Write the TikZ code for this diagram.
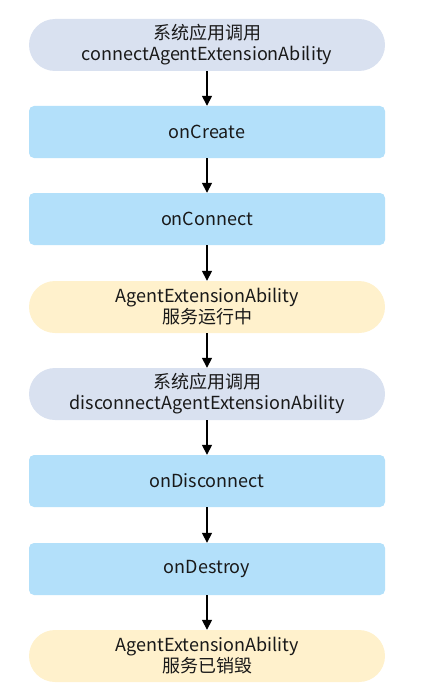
\documentclass[tikz,border=0pt]{standalone}
\usepackage{fontspec}
\setmainfont{Noto Sans CJK SC}
\usetikzlibrary{arrows.meta}
\definecolor{grayblue}{HTML}{D9E1F0}
\definecolor{lightblue}{HTML}{B3E0FA}
\definecolor{lightyellow}{HTML}{FFF1CC}
\begin{document}
\begin{tikzpicture}[x=1pt,y=-1pt,
  base/.style={minimum width=356pt,minimum height=52pt,inner sep=0pt,align=center,
    font=\fontsize{18}{21}\selectfont,text=black!90},
  callbox/.style={base,fill=grayblue,rounded corners=26pt},
  stepbox/.style={base,fill=lightblue,rounded corners=5pt},
  statebox/.style={base,fill=lightyellow,rounded corners=26pt},
  arr/.style={-{Triangle[length=10pt,width=10pt]},line width=1.6pt,black}]
\useasboundingbox (0,0) rectangle (424,698);
\node[callbox]  (n1) at (207,45)  {系统应用调用\\connectAgentExtensionAbility};
\node[stepbox]  (n2) at (207,132) {onCreate};
\node[stepbox]  (n3) at (207,219) {onConnect};
\node[statebox] (n4) at (207,307) {AgentExtensionAbility\\服务运行中};
\node[callbox]  (n5) at (207,394) {系统应用调用\\disconnectAgentExtensionAbility};
\node[stepbox]  (n6) at (207,481) {onDisconnect};
\node[stepbox]  (n7) at (207,569) {onDestroy};
\node[statebox] (n8) at (207,656) {AgentExtensionAbility\\服务已销毁};
\foreach \a/\b in {n1/n2,n2/n3,n3/n4,n4/n5,n5/n6,n6/n7,n7/n8}
  \draw[arr] (\a) -- (\b);
\end{tikzpicture}
\end{document}
